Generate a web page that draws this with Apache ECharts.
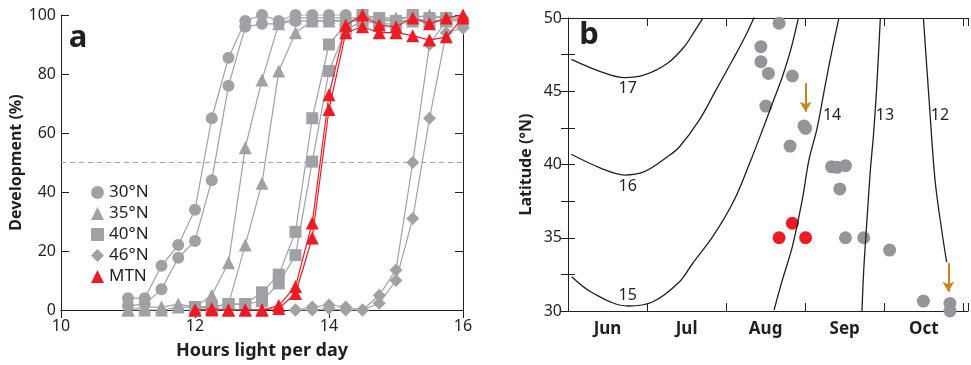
<!DOCTYPE html>
<html>
<head>
<meta charset="utf-8">
<script src="https://cdn.jsdelivr.net/npm/echarts@6/dist/echarts.min.js"></script>
<style>
html, body { margin: 0; padding: 0; background: #fff; }
#chart { width: 971px; height: 365px; }
</style>
</head>
<body>
<div id="chart"></div>
<script>
// ---- panel a: development (%) vs hours of light per day ----
const h30 = [11, 11.25, 11.5, 11.75, 12, 12.25, 12.5, 12.75, 13, 13.25, 13.5, 13.75, 14, 14.25]
const dev30a = [4, 4, 15, 22, 34, 65, 85.5, 98, 100, 98, 100, 100, 100, 100]
const dev30b = [1.5, 2, 7, 17.7, 23.4, 44, 76, 96, 97, 97, 98, 98, 98, 98]

const h35 = [11, 11.25, 11.5, 11.75, 12, 12.25, 12.5, 12.75, 13, 13.25, 13.5, 13.75, 14, 14.25, 14.5, 14.75, 15, 15.25, 15.5, 15.75, 16]
const dev35a = [0, 1, 1, 2, 1, 5, 16, 55, 78, 97, 99, 99, 99, 99, 99, 99, 99, 99, 100, 99, 99]
const dev35b = [0, 0, 0, 1, 1, 1, 2, 22, 43, 81, 94, 98, 98, 98, 98, 98, 98, 98, 98, 98, 98]

const h40 = [12, 12.25, 12.5, 12.75, 13, 13.25, 13.5, 13.75, 14, 14.25, 14.5, 14.75, 15, 15.25, 15.5, 15.75]
const dev40a = [1, 1, 2, 2, 6, 12, 26.5, 65, 90, 97, 100, 99, 98, 100, 99, 99]
const dev40b = [1, 1, 2, 2, 3, 9, 18.6, 50.3, 81, 95, 98, 97, 97, 99, 98, 98]

const h46 = [13.5, 13.75, 14, 14.25, 14.5, 14.75, 15, 15.25, 15.5, 15.75, 16]
const dev46a = [0, 1, 1.7, 1, 0, 5, 13.6, 50, 90, 98, 99]
const dev46b = [0, 0, 0.5, 0, 0, 2.3, 10, 31, 65, 94, 95.5]

const hMTN = [12, 12.25, 12.5, 12.75, 13, 13.25, 13.5, 13.75, 14, 14.25, 14.5, 14.75, 15, 15.25, 15.5, 15.75, 16]
const devMTNa = [0, 0.5, 0, 0, 0, 1.5, 8, 29.5, 73, 96.5, 100, 96.6, 96, 99, 97, 99, 100]
const devMTNb = [0, 0, 0, 0, 0, 0.5, 5.6, 24.4, 68, 94, 96, 94, 94, 93, 91.5, 92.6, 99]

const halfLine = 50

// ---- panel b: latitude vs date (months counted from 1 June) ----
const monthNames = ['Jun', 'Jul', 'Aug', 'Sep', 'Oct']

const c17m = [0.042, 0.419, 0.714, 0.966, 1.259, 1.47, 1.596, 1.704]
const c17lat = [47.18, 46.33, 45.93, 46.11, 46.91, 48.04, 49.06, 49.98]
const c16m = [0.042, 0.419, 0.714, 0.966, 1.259, 1.411, 1.662, 1.873, 2.082, 2.251, 2.355]
const c16lat = [40.7, 39.74, 39.28, 39.51, 40.53, 41.21, 43.04, 45.09, 47.13, 48.84, 50.05]
const c15m = [0.047, 0.319, 0.759, 1.074, 1.411, 1.578, 1.83, 2.103, 2.314, 2.46, 2.586, 2.712, 2.817, 2.913]
const c15lat = [32.34, 31.21, 30.34, 30.63, 32.0, 33.26, 35.07, 37.58, 40.31, 42.35, 44.18, 45.99, 47.82, 49.98]
const c14m = [2.607, 2.712, 2.838, 2.963, 3.048, 3.152, 3.258, 3.341, 3.426]
const c14lat = [30.07, 32.12, 34.39, 37.58, 40.31, 42.5, 45.54, 47.82, 49.98]
const c13m = [3.719, 3.741, 3.782, 3.825, 3.866, 3.908, 3.951]
const c13lat = [30, 32.8, 36.21, 39.62, 42.13, 45.54, 49.98]
const c12m = [4.496, 4.568, 4.643, 4.727, 4.79]
const c12lat = [49.98, 44.4, 38.94, 35.53, 33.34]
const contourHours = ['17', '16', '15', '14', '13', '12']
const labelM = [0.756, 0.756, 0.756, 3.341, 4.01, 4.706]
const labelLat = [45.2, 38.53, 31.09, 43.38, 43.38, 43.38]

const greyM = [2.67, 2.44, 2.44, 2.535, 2.838, 2.503, 2.985, 3.006, 2.809, 3.334, 3.404, 3.51, 3.438, 3.51, 3.741, 4.068, 4.496, 4.832, 4.832]
const greyLat = [49.64, 48.04, 47.02, 46.22, 46.04, 43.99, 42.63, 42.47, 41.26, 39.85, 39.81, 39.92, 38.33, 35, 35, 34.16, 30.68, 30.52, 30]
const redM = [2.67, 2.838, 3.006]
const redLat = [35, 35.99, 35]

const arrowM = [3.006, 4.811]
const arrowTop = [45.55, 33.26]
const arrowBottom = [43.6, 31.32]

const INK = '#231f20'
const GREY = '#9fa1a4'
const RED = '#ed1c24'
const GOLD = '#c8861a'
const FONT = 'Noto Sans'

const zip = (xs, ys) => xs.map((x, i) => [x, ys[i]])

const chart = echarts.init(document.getElementById('chart'))

const frameAxis = (extra) => Object.assign({
  type: 'value',
  axisLine: { show: true, lineStyle: { color: INK, width: 1 } },
  axisTick: { show: true, inside: true, length: 8, lineStyle: { color: INK } },
  splitLine: { show: false },
  axisLabel: { show: false },
}, extra)

const aSeries = [
  { name: '30°N', symbol: 'circle', size: 12, data: [[h30, dev30a], [h30, dev30b]] },
  { name: '35°N', symbol: 'triangle', size: 13, data: [[h35, dev35a], [h35, dev35b]] },
  { name: '40°N', symbol: 'rect', size: 12, data: [[h40, dev40a], [h40, dev40b]] },
  { name: '46°N', symbol: 'diamond', size: 13, data: [[h46, dev46a], [h46, dev46b]] },
  { name: 'MTN', symbol: 'triangle', size: 13, data: [[hMTN, devMTNa], [hMTN, devMTNb]], color: RED },
].flatMap(s => s.data.map(([h, v]) => ({
  type: 'line',
  name: s.name,
  xAxisIndex: 0,
  yAxisIndex: 0,
  data: zip(h, v),
  symbol: s.symbol,
  symbolSize: s.size,
  showSymbol: true,
  itemStyle: { color: s.color || GREY },
  lineStyle: { color: s.color || GREY, width: 1.2 },
  z: s.color ? 4 : 2,
})))

aSeries[0].markLine = {
  silent: true,
  symbol: 'none',
  label: { show: false },
  lineStyle: { type: [5, 4], color: GREY, width: 1.2 },
  data: [{ yAxis: halfLine }],
}

const curves = [[c17m, c17lat], [c16m, c16lat], [c15m, c15lat], [c14m, c14lat], [c13m, c13lat], [c12m, c12lat]]
const bSeries = curves.map(([m, lat]) => ({
  type: 'line',
  xAxisIndex: 2,
  yAxisIndex: 2,
  data: zip(m, lat),
  symbol: 'none',
  smooth: 0.35,
  lineStyle: { color: INK, width: 1.3 },
}))

bSeries.push({
  type: 'scatter',
  xAxisIndex: 2,
  yAxisIndex: 2,
  data: labelM.map((m, i) => ({ value: [m, labelLat[i]], name: contourHours[i] })),
  symbolSize: 0,
  itemStyle: { opacity: 1 },
  label: {
    show: true, position: 'inside', formatter: p => p.name,
    color: INK, fontSize: 16, fontFamily: FONT, textBorderWidth: 0,
  },
})

bSeries.push({
  type: 'scatter',
  xAxisIndex: 2,
  yAxisIndex: 2,
  data: zip(greyM, greyLat),
  symbolSize: 13,
  itemStyle: { color: '#939598', opacity: 1 },
  markLine: {
    silent: true,
    symbol: ['none', 'arrow'],
    symbolSize: [9, 10],
    label: { show: false },
    lineStyle: { color: GOLD, width: 2, type: 'solid' },
    data: arrowM.map((m, i) => [{ coord: [m, arrowTop[i]] }, { coord: [m, arrowBottom[i]] }]),
  },
})

bSeries.push({
  type: 'scatter',
  xAxisIndex: 2,
  yAxisIndex: 2,
  data: zip(redM, redLat),
  symbolSize: 13,
  itemStyle: { color: RED, opacity: 1 },
})

chart.setOption({
  animation: false,
  textStyle: { fontFamily: FONT },
  grid: [
    { left: 61, right: 508, top: 15, bottom: 55 },
    { left: 568, right: 1, top: 18, bottom: 54 },
  ],
  legend: {
    data: [
      { name: '30°N', icon: 'circle' },
      { name: '35°N', icon: 'triangle' },
      { name: '40°N', icon: 'rect' },
      { name: '46°N', icon: 'diamond' },
      { name: 'MTN', icon: 'triangle' },
    ],
    orient: 'vertical',
    left: 86,
    top: 179,
    itemWidth: 13,
    itemHeight: 13,
    itemGap: 4,
    selectedMode: false,
    textStyle: { fontSize: 17, color: INK, fontFamily: FONT },
  },
  xAxis: [
    frameAxis({
      gridIndex: 0, position: 'bottom', min: 10, max: 16, interval: 2,
      axisLabel: { show: true, color: INK, fontSize: 16, margin: 8, fontFamily: FONT },
      name: 'Hours light per day', nameLocation: 'middle', nameGap: 32,
      nameTextStyle: { fontSize: 18, fontWeight: 'bold', color: INK, fontFamily: FONT },
    }),
    frameAxis({ gridIndex: 0, position: 'top', min: 10, max: 16, interval: 2 }),
    frameAxis({ gridIndex: 1, position: 'bottom', min: 0, max: 5.06, interval: 1 }),
    {
      type: 'value', gridIndex: 1, position: 'bottom', min: 0, max: 5.06, interval: 0.5,
      axisLine: { show: false }, axisTick: { show: false }, splitLine: { show: false },
      axisLabel: {
        show: true, color: INK, fontSize: 17, fontWeight: 'bold', margin: 10, fontFamily: FONT,
        formatter: v => (Math.abs(v - Math.floor(v) - 0.5) < 1e-6 ? monthNames[Math.floor(v)] || '' : ''),
      },
    },
    frameAxis({ gridIndex: 1, position: 'top', min: 0, max: 5.06, interval: 1 }),
  ],
  yAxis: [
    frameAxis({
      gridIndex: 0, position: 'left', min: 0, max: 100, interval: 20,
      axisLabel: { show: true, color: INK, fontSize: 16, margin: 5, fontFamily: FONT },
      name: 'Development (%)', nameLocation: 'middle', nameGap: 33, nameRotate: 90,
      nameTextStyle: { fontSize: 16, fontWeight: 'bold', color: INK, fontFamily: FONT },
    }),
    frameAxis({ gridIndex: 0, position: 'right', min: 0, max: 100, interval: 20 }),
    frameAxis({
      gridIndex: 1, position: 'left', min: 30, max: 50, interval: 2.5,
      axisTick: { show: true, inside: true, length: 7, lineStyle: { color: INK } },
      axisLabel: { show: true, color: INK, fontSize: 16, margin: 6, fontFamily: FONT, formatter: v => (v % 5 === 0 ? v : '') },
      name: 'Latitude (°N)', nameLocation: 'middle', nameGap: 34, nameRotate: 90,
      nameTextStyle: { fontSize: 16, fontWeight: 'bold', color: INK, fontFamily: FONT },
    }),
    frameAxis({
      gridIndex: 1, position: 'right', min: 30, max: 50, interval: 2.5,
      axisTick: { show: true, inside: true, length: 7, lineStyle: { color: INK } },
    }),
  ],
  graphic: [
    { type: 'text', x: 78, y: 38, style: { text: 'a', font: 'bold 31px "Noto Sans"', fill: INK, textAlign: 'center', textVerticalAlign: 'middle' } },
    { type: 'text', x: 589, y: 35, style: { text: 'b', font: 'bold 31px "Noto Sans"', fill: INK, textAlign: 'center', textVerticalAlign: 'middle' } },
  ],
  series: aSeries.concat(bSeries),
})
</script>
</body>
</html>
